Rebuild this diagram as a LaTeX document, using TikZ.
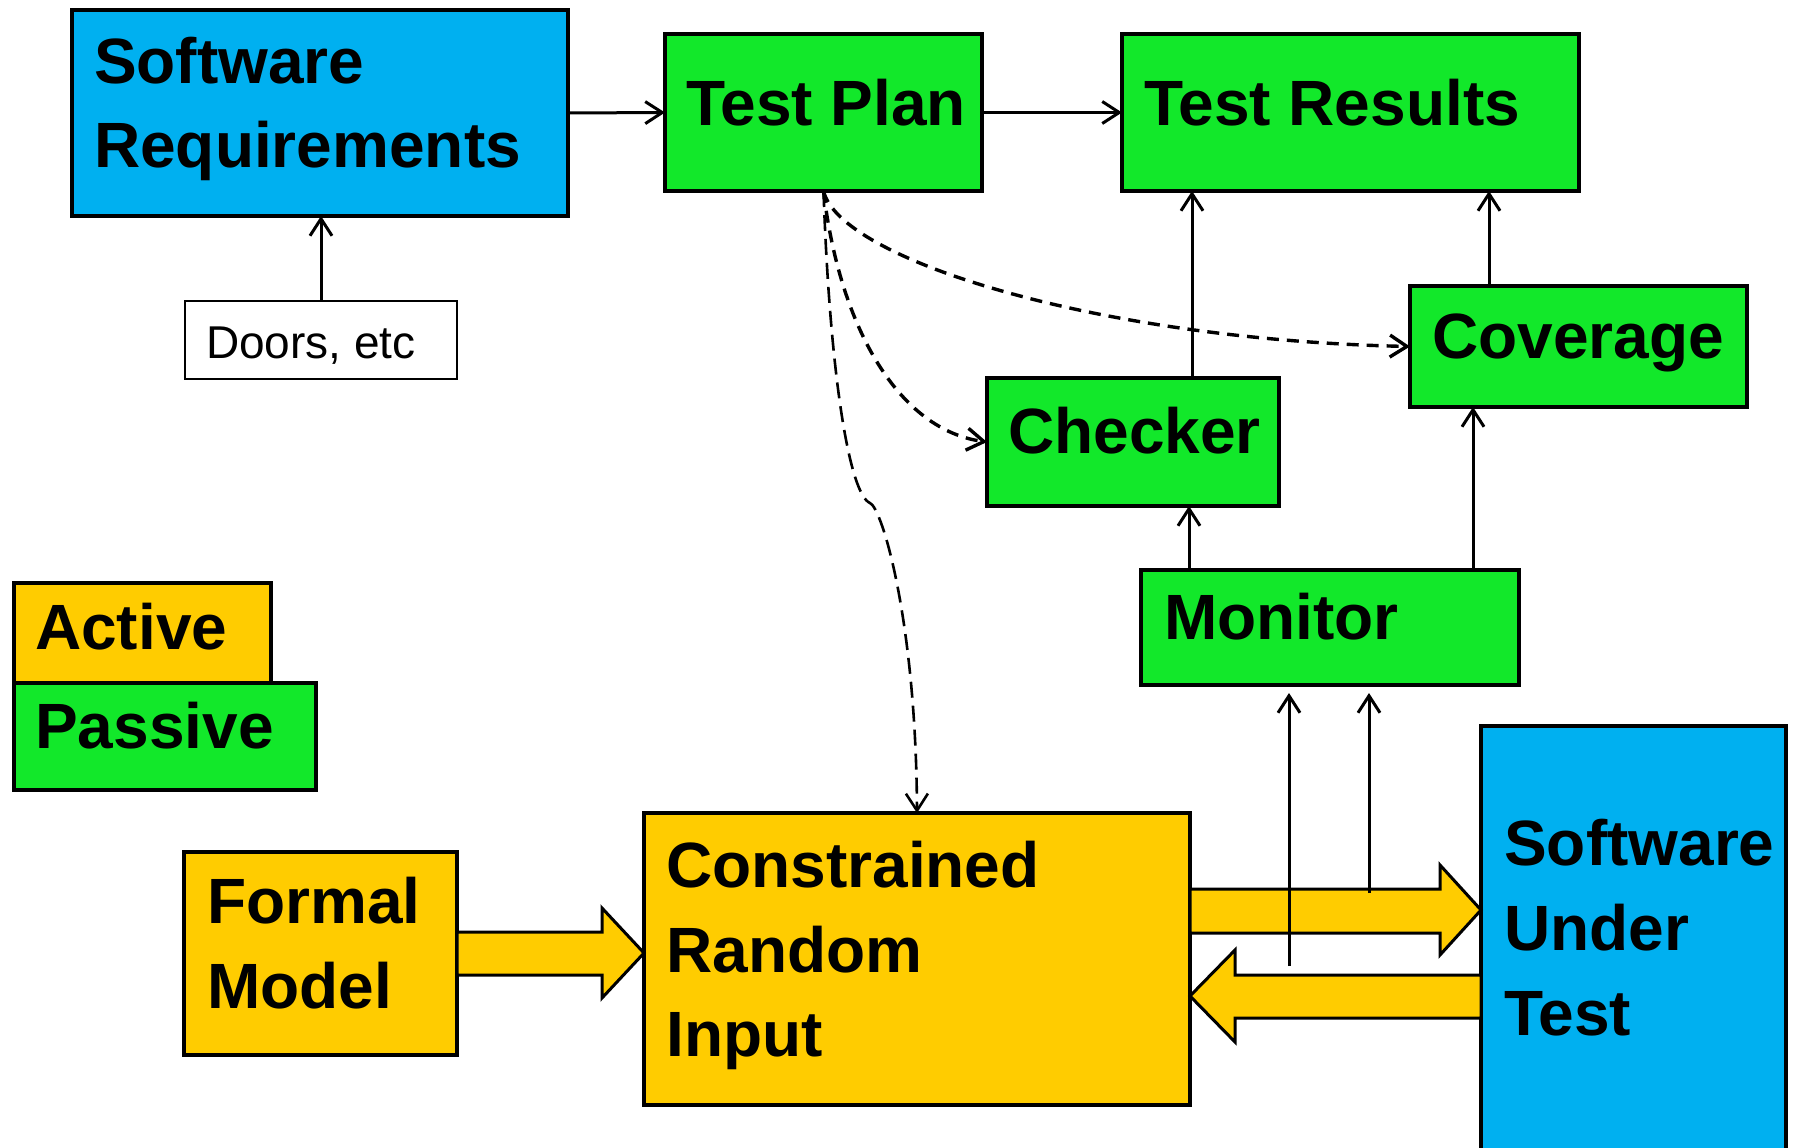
\documentclass[tikz,border=0pt]{standalone}
\usepackage{fontspec}
\setmainfont{Liberation Sans}
\usetikzlibrary{arrows.meta}
\definecolor{cblue}{HTML}{00B0F0}
\definecolor{cgreen}{HTML}{12E82A}
\definecolor{cgold}{HTML}{FFCC00}
\begin{document}
\begin{tikzpicture}[x=1pt,y=-1pt,
 box/.style={draw=black, line width=3.4pt, inner sep=0pt, outer sep=0pt, anchor=north west, rectangle},
 lbl/.style={anchor=base west, inner sep=0pt, font=\fontsize{64}{77}\selectfont\bfseries},
 smalllbl/.style={anchor=base west, inner sep=0pt, font=\fontsize{46}{55}\selectfont},
 conn/.style={line width=3pt, -{Straight Barb[length=17pt,width=22pt]}},
 dconn/.style={conn, line width=3.4pt, dash pattern=on 12pt off 8pt},
 dconnthin/.style={conn, line width=2.6pt, dash pattern=on 16pt off 8pt},
 block/.style={fill=cgold, draw=black, line width=3pt, line join=miter}]

\useasboundingbox (0,0) rectangle (1793,1148);

% boxes
\node[box, fill=cblue, minimum width=496pt, minimum height=206pt] (swr) at (72,10) {};
\node[box, fill=cgreen, minimum width=317pt, minimum height=157pt] (tp) at (665,34) {};
\node[box, fill=cgreen, minimum width=457pt, minimum height=157pt] (tr) at (1122,34) {};
\node[box, fill=cgreen, minimum width=337pt, minimum height=121pt] (cov) at (1410,286) {};
\node[box, fill=cgreen, minimum width=292pt, minimum height=128pt] (chk) at (987,378) {};
\node[box, fill=cgreen, minimum width=378pt, minimum height=115pt] (mon) at (1141,570) {};
\node[box, fill=cgold, minimum width=257pt, minimum height=100pt] (act) at (14,583) {};
\node[box, fill=cgreen, minimum width=302pt, minimum height=107pt] (pas) at (14,683) {};
\node[box, fill=cgold, minimum width=273pt, minimum height=203pt] (fm) at (184,852) {};
\node[box, fill=cgold, minimum width=546pt, minimum height=292pt] (cri) at (644,813) {};
\node[box, fill=cblue, minimum width=305pt, minimum height=434pt] (sut) at (1481,726) {};
\node[box, fill=white, line width=1.8pt, minimum width=272pt, minimum height=78pt] (doors) at (185,301) {};

% texts
\node[lbl] (t1) at (94,83) {Software};
\node[lbl] (t2) at (94,167) {Requirements};
\node[lbl] (t3) at (686,125) {Test Plan};
\node[lbl] (t4) at (1144,125) {Test Results};
\node[lbl] (t5) at (1432,358) {Coverage};
\node[lbl] (t6) at (1008,453) {Checker};
\node[lbl] (t7) at (1164,639) {Monitor};
\node[lbl] (t8) at (35,649) {Active};
\node[lbl] (t9) at (35,748) {Passive};
\node[lbl] (t10) at (207,923) {Formal};
\node[lbl] (t11) at (207,1008) {Model};
\node[lbl] (t12) at (666,887) {Constrained};
\node[lbl] (t13) at (666,972) {Random};
\node[lbl] (t14) at (666,1056) {Input};
\node[lbl] (t15) at (1504,865) {Software};
\node[lbl] (t16) at (1504,950) {Under};
\node[lbl] (t17) at (1504,1035) {Test};
\node[smalllbl] (t18) at (206,358) {Doors, etc};

% solid connectors
\draw[conn] (swr.east) -- (tp.west);
\draw[conn] (tp.east) -- (tr.west);
\draw[conn] (doors.north) -- (doors.north |- swr.south);
\draw[conn] (chk.north -| 1192,0) -- (tr.south -| 1192,0);
\draw[conn] (cov.north -| 1489,0) -- (tr.south -| 1489,0);
\draw[conn] (mon.north -| 1189,0) -- (chk.south -| 1189,0);
\draw[conn] (mon.north -| 1473,0) -- (cov.south -| 1473,0);

% dashed connectors
\draw[dconn] (tp.south) .. controls (840,260) and (1100,340) .. (cov.west);
\draw[dconn] (tp.south) .. controls (840,330) and (900,430) .. (chk.west);
\draw[dconnthin] (tp.south) .. controls (830,380) and (850,495) .. (870,503) .. controls (882,508) and (916,620) .. (cri.north);

% block arrows
\draw[block] (fm.east |- 0,932) -- (602,932) -- (602,908) -- (cri.west |- 0,953) -- (602,998) -- (602,975) -- (fm.east |- 0,975) -- cycle;
\draw[block] (cri.north east |- 0,889) -- (1440,889) -- (1440,865) -- (sut.west |- 0,910) -- (1440,955) -- (1440,933) -- (cri.north east |- 0,933) -- cycle;
\draw[block] (sut.west |- 0,975) -- (1235,975) -- (1235,950) -- (cri.east |- 0,996) -- (1235,1042) -- (1235,1018) -- (sut.west |- 0,1018) -- cycle;

% lines up to monitor
\coordinate (m1s) at (1289,966);
\coordinate (m1e) at (1289,693);
\coordinate (m2s) at (1369,893);
\coordinate (m2e) at (1369,693);
\draw[conn] (m1s) -- (m1e);
\draw[conn] (m2s) -- (m2e);
\end{tikzpicture}
\end{document}
